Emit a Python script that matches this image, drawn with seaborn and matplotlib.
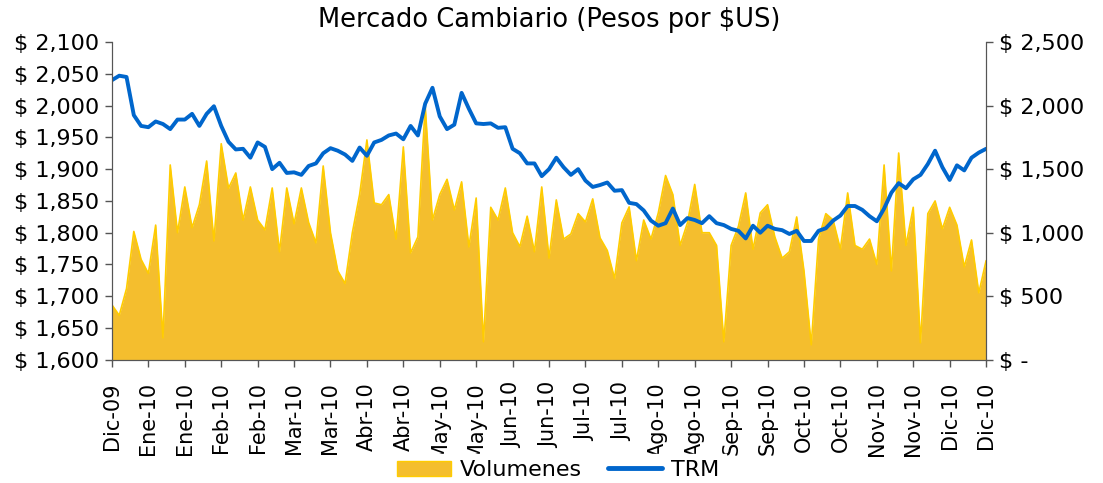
import numpy as np
import pandas as pd
import matplotlib
matplotlib.use("Agg")
import matplotlib.pyplot as plt
import seaborn as sns
from matplotlib.patches import Patch
from matplotlib.lines import Line2D
from matplotlib.ticker import FuncFormatter

sns.set_style("white")
plt.rcParams['font.family'] = ['DejaVu Sans']
plt.rcParams['text.color'] = 'black'

# TRM (pesos por dolar), una observacion cada dos sesiones
trm = [2040, 2047, 2045, 1985, 1968, 1966, 1975, 1971, 1963, 1978,
       1978, 1987, 1968, 1987, 1999, 1968, 1943, 1931, 1932, 1918,
       1942, 1935, 1900, 1910, 1894, 1895, 1891, 1905, 1909, 1925,
       1933, 1929, 1923, 1913, 1934, 1921, 1942, 1946, 1953, 1956,
       1947, 1968, 1953, 2003, 2028, 1983, 1963, 1970, 2020, 1995,
       1972, 1971, 1972, 1965, 1966, 1932, 1925, 1909, 1909, 1889,
       1900, 1918, 1903, 1891, 1900, 1882, 1872, 1875, 1879, 1866,
       1867, 1847, 1845, 1835, 1819, 1811, 1815, 1838, 1812, 1823,
       1820, 1815, 1826, 1815, 1812, 1806, 1803, 1791, 1811, 1800,
       1811, 1806, 1804, 1798, 1803, 1787, 1787, 1803, 1807, 1819,
       1827, 1842, 1842, 1836, 1826, 1818, 1838, 1863, 1878, 1870,
       1884, 1891, 1908, 1929, 1903, 1883, 1906, 1898, 1918, 1926,
       1932]

# Volumen negociado (millones de US$)
volumen = [432, 350, 560, 1010, 790, 680, 1060, 173, 1533, 1000,
           1360, 1040, 1220, 1564, 935, 1700, 1350, 1470, 1100, 1360,
           1100, 1022, 1352, 850, 1352, 1070, 1352, 1080, 920, 1525,
           1000, 700, 600, 1000, 1300, 1730, 1234, 1220, 1300, 950,
           1675, 841, 967, 2000, 1100, 1300, 1420, 1179, 1400, 888,
           1273, 142, 1200, 1100, 1352, 1000, 890, 1130, 850, 1360,
           800, 1258, 950, 990, 1150, 1085, 1266, 960, 860, 640,
           1077, 1203, 780, 1100, 950, 1156, 1450, 1300, 900, 1077,
           1380, 1000, 1000, 900, 142, 900, 1050, 1313, 870, 1156,
           1220, 967, 800, 850, 1124, 700, 118, 950, 1150, 1100,
           870, 1313, 900, 870, 950, 750, 1533, 700, 1627, 900,
           1200, 134, 1150, 1250, 1030, 1200, 1060, 731, 943, 527,
           780]

etiquetas = ["Dic-09", "Ene-10", "Ene-10", "Feb-10", "Feb-10", "Mar-10", "Mar-10",
             "Abr-10", "Abr-10", "May-10", "May-10", "Jun-10", "Jun-10",
             "Jul-10", "Jul-10", "Ago-10", "Ago-10", "Sep-10", "Sep-10",
             "Oct-10", "Oct-10", "Nov-10", "Nov-10", "Dic-10", "Dic-10"]

df = pd.DataFrame({"sesion": np.arange(len(trm)), "trm": trm, "volumen": volumen})

oro = "#F4BE2E"
borde = "#FFCC00"
azul = "#0066CC"

fig, ax = plt.subplots(figsize=(11.03, 4.83), dpi=100)
ax2 = ax.twinx()

# volumen en el eje derecho
ax2.fill_between(df["sesion"], df["volumen"], 0, color=oro, lw=0)
sns.lineplot(data=df, x="sesion", y="volumen", ax=ax2, color=borde, lw=1.2)

# TRM en el eje izquierdo, por encima del area
sns.lineplot(data=df, x="sesion", y="trm", ax=ax, color=azul, lw=2.8)
ax.set_zorder(ax2.get_zorder() + 1)
ax.patch.set_visible(False)

ax.set_xlim(0, len(trm) - 1)
ax.set_ylim(1600, 2100)
ax.set_yticks(np.arange(1600, 2101, 50))
ax.yaxis.set_major_formatter(FuncFormatter(lambda v, p: "$ {:,.0f}".format(v)))
ax2.set_ylim(0, 2500)
ax2.set_yticks(np.arange(0, 2501, 500))
ax2.yaxis.set_major_formatter(
    FuncFormatter(lambda v, p: "$ -" if v == 0 else "$ {:,.0f}".format(v)))

ax.set_xticks(np.arange(0, len(trm), 5))
ax.set_xticklabels(etiquetas, rotation=90)
ax.set_xlabel("")
ax.set_ylabel("")
ax2.set_ylabel("")

for a in (ax, ax2):
    a.tick_params(axis="y", labelsize=16, direction="out", length=5,
                  width=1, color="#555555", labelcolor="black", pad=4)
    a.spines["top"].set_visible(False)
    for s in ("left", "right", "bottom"):
        a.spines[s].set_color("#555555")
ax.tick_params(axis="x", labelsize=15, direction="out", length=5, width=1,
               color="#555555", labelcolor="black", pad=11, bottom=True)
ax.tick_params(axis="y", left=True)
ax2.tick_params(axis="y", right=True)

ax.set_title("Mercado Cambiario (Pesos por $US)", fontsize=18.5, pad=11)

# leyenda con fondo blanco, tapa el final de las etiquetas como en Excel
handles = [Patch(facecolor=oro, edgecolor=borde, label="Volumenes"),
           Line2D([0], [0], color=azul, lw=3.5, label="TRM")]
leg = fig.legend(handles=handles, loc="lower center", ncol=2, frameon=True,
                 fontsize=16, bbox_to_anchor=(0.506, -0.031), handlelength=2.4,
                 handletextpad=0.4, columnspacing=1.2, borderpad=0.3,
                 fancybox=False, framealpha=1)
leg.get_frame().set_facecolor("white")
leg.get_frame().set_edgecolor("white")

fig.subplots_adjust(left=0.1015, right=0.894, top=0.913, bottom=0.255)
fig.savefig("out.png", dpi=100)
